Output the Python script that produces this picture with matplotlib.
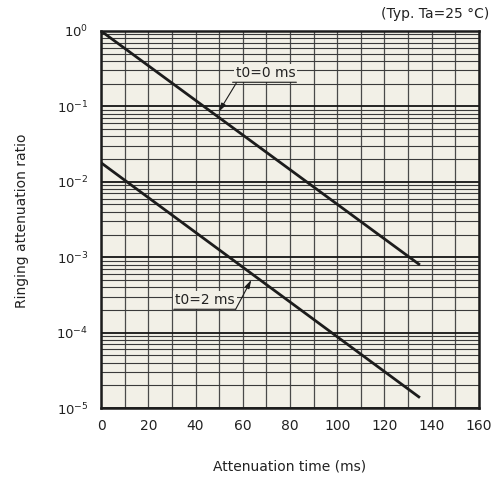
import numpy as np
import matplotlib
matplotlib.use("Agg")
import matplotlib.pyplot as plt

# datos (dos rectas en escala log)
t_ms = [0, 135]
ratio_t0_0 = [1.0, 7.9e-4]
ratio_t0_2 = [1.79e-2, 1.37e-5]

xticks = [0, 20, 40, 60, 80, 100, 120, 140, 160]
yticks = [1e-5, 1e-4, 1e-3, 1e-2, 1e-1, 1e0]
ytick_labels = [r"$10^{-5}$", r"$10^{-4}$", r"$10^{-3}$", r"$10^{-2}$", r"$10^{-1}$", r"$10^{0}$"]

bg = "#f2f0e7"
ink = "#1c1c1c"

fig = plt.figure(figsize=(4.94, 4.79), dpi=100)
ax = fig.add_axes([0.2045, 0.1482, 0.9696 - 0.2045, 0.9353 - 0.1482])
ax.set_facecolor(bg)

ax.set_yscale("log")
ax.set_xlim(0, 160)
ax.set_ylim(1e-5, 1)

# grilla
ax.set_xticks(xticks)
ax.set_xticks(np.arange(0, 161, 10), minor=True)
ax.set_yticks(yticks)
ax.set_yticklabels(ytick_labels)
ax.yaxis.set_minor_locator(matplotlib.ticker.LogLocator(base=10, subs=np.arange(2, 10)))
ax.yaxis.set_minor_formatter(matplotlib.ticker.NullFormatter())
ax.grid(True, which="minor", axis="x", color="#4a4a4a", lw=0.9)
ax.grid(True, which="major", axis="x", color="#4a4a4a", lw=0.9)
ax.grid(True, which="major", axis="y", color="#151515", lw=1.3)
ax.grid(True, which="minor", axis="y", color="#3a3a3a", lw=0.8)
ax.set_axisbelow(True)
ax.tick_params(which="both", length=0)
ax.tick_params(axis="x", pad=8, labelsize=10, colors="#222")
ax.tick_params(axis="y", pad=9, labelsize=9.5, colors="#222")
for s in ax.spines.values():
    s.set_color(ink)
    s.set_linewidth(1.8)

ax.plot(t_ms, ratio_t0_0, color=ink, lw=2.0, solid_capstyle="butt", zorder=3)
ax.plot(t_ms, ratio_t0_2, color=ink, lw=2.0, solid_capstyle="butt", zorder=3)

# etiquetas con subrayado y flecha
arrow = dict(arrowstyle="-|>,head_length=0.5,head_width=0.15", color=ink, lw=0.8, shrinkA=0, shrinkB=0)
under = dict(arrowstyle="-", color=ink, lw=0.8, shrinkA=0, shrinkB=0)

ax.text(69.6, 0.277, "t0=0 ms", ha="center", va="center", fontsize=10, color="#222",
        bbox=dict(facecolor=bg, edgecolor="none", pad=1.5), zorder=4)
ax.annotate("", xy=(82.7, 0.209), xytext=(55.7, 0.209), arrowprops=under, zorder=4)
ax.annotate("", xy=(49.9, 0.0851), xytext=(57.3, 0.205), arrowprops=arrow, zorder=4)

ax.text(43.9, 2.71e-4, "t0=2 ms", ha="center", va="center", fontsize=10, color="#222",
        bbox=dict(facecolor=bg, edgecolor="none", pad=1.5), zorder=4)
ax.annotate("", xy=(57.0, 2.04e-4), xytext=(30.8, 2.04e-4), arrowprops=under, zorder=4)
ax.annotate("", xy=(63.6, 4.99e-4), xytext=(57.0, 2.04e-4), arrowprops=arrow, zorder=4)

fig.text(0.045, 0.54, "Ringing attenuation ratio", rotation=90, ha="center", va="center",
         fontsize=10, color="#222")
fig.text(0.587, 0.027, "Attenuation time (ms)", ha="center", va="center", fontsize=10, color="#222")
fig.text(0.99, 0.970, "(Typ. Ta=25 °C)", ha="right", va="center", fontsize=10, color="#222")

fig.savefig("out.png", dpi=100, facecolor="white")
